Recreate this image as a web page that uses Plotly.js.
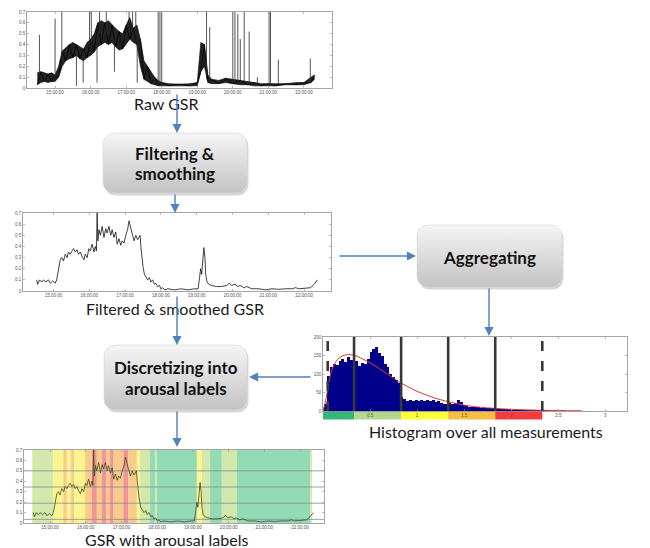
<!DOCTYPE html>
<html>
<head>
<meta charset="utf-8">
<script src="https://cdn.plot.ly/plotly-3.0.1.min.js"></script>
<style>html,body{margin:0;padding:0;background:#fff;}#chart{width:650px;height:548px;}</style>
</head>
<body>
<div id="chart"></div>
<script>
// ---------------- DATA ----------------
// time axis (hours of day)
const hourTicks = [15, 16, 17, 18, 19, 20, 21, 22];
const hourLabels = ["15:00:00", "16:00:00", "17:00:00", "18:00:00", "19:00:00", "20:00:00", "21:00:00", "22:00:00"];
const gsrTicks = [0, 0.1, 0.2, 0.3, 0.4, 0.5, 0.6, 0.7];
const gsrTickLabels = ["0", "0.1", "0.2", "0.3", "0.4", "0.5", "0.6", "0.7"];

// raw GSR: noise envelope
const rawT  = [14.5,14.6,14.7,14.8,14.9,15.0,15.1,15.2,15.3,15.4,15.5,15.6,15.7,15.8,15.9,16.0,16.1,16.2,16.3,16.4,16.5,16.6,16.7,16.8,16.9,17.0,17.1,17.2,17.3,17.4,17.5,17.6,17.7,17.8,17.9,18.0,18.2,18.5,18.8,19.0,19.1,19.2,19.3,19.4,19.6,19.8,20.0,20.2,20.4,20.6,20.8,21.0,21.2,21.5,21.8,22.0,22.2,22.3];
const rawLo = [0.03,0.05,0.06,0.05,0.06,0.06,0.10,0.20,0.25,0.27,0.28,0.30,0.27,0.25,0.28,0.30,0.33,0.38,0.40,0.42,0.40,0.42,0.38,0.35,0.36,0.40,0.45,0.42,0.40,0.20,0.08,0.06,0.04,0.03,0.02,0.02,0.02,0.02,0.02,0.02,0.15,0.20,0.05,0.04,0.04,0.05,0.04,0.03,0.03,0.02,0.02,0.02,0.02,0.03,0.03,0.03,0.05,0.08];
const rawHi = [0.14,0.15,0.14,0.13,0.14,0.12,0.20,0.34,0.37,0.40,0.42,0.40,0.38,0.36,0.42,0.45,0.50,0.60,0.62,0.60,0.62,0.58,0.55,0.52,0.50,0.58,0.65,0.55,0.58,0.45,0.25,0.20,0.15,0.10,0.07,0.05,0.04,0.035,0.04,0.05,0.42,0.40,0.12,0.08,0.07,0.09,0.08,0.07,0.06,0.05,0.04,0.04,0.04,0.04,0.05,0.05,0.10,0.12];
// raw GSR: artefact spikes
const spikeT    = [14.56,15.00,15.19,15.60,15.79,15.97,16.02,16.18,16.25,16.44,16.67,16.71,17.08,17.18,17.27,17.31,17.90,17.95,18.00,19.26,19.35,20.00,20.06,20.14,20.21,20.32,20.46,20.69,21.02,21.06,21.28,22.18];
const spikeFrom = [0.10,0.10,0.25,0.35,0.33,0.38,0.40,0.45,0.50,0.50,0.45,0.45,0.50,0.50,0.50,0.45,0.04,0.04,0.03,0.08,0.06,0.05,0.05,0.05,0.05,0.05,0.04,0.03,0.03,0.03,0.03,0.06];
const spikeTo   = [0.49,0.64,0.70,0.02,0.05,0.70,0.70,0.05,0.70,0.70,0.15,0.55,0.70,0.70,0.70,0.05,0.70,0.70,0.70,0.70,0.56,0.70,0.70,0.68,0.45,0.70,0.52,0.10,0.70,0.70,0.26,0.27];

// filtered & smoothed GSR
const filtT = [14.53,14.56,14.61,14.67,14.72,14.79,14.86,14.91,14.98,15.05,15.09,15.14,15.19,15.23,15.28,15.33,15.38,15.42,15.47,15.52,15.56,15.61,15.66,15.70,15.75,15.80,15.85,15.89,15.94,15.99,16.03,16.08,16.13,16.17,16.20,16.22,16.24,16.27,16.31,16.36,16.41,16.46,16.50,16.55,16.60,16.64,16.69,16.74,16.78,16.83,16.88,16.92,16.97,17.02,17.07,17.11,17.16,17.21,17.25,17.30,17.35,17.39,17.42,17.44,17.47,17.50,17.54,17.58,17.63,17.68,17.72,17.77,17.82,17.86,17.91,17.96,18.00,18.05,18.10,18.19,18.38,18.57,18.76,18.94,19.04,19.08,19.11,19.14,19.17,19.20,19.23,19.25,19.29,19.34,19.41,19.55,19.69,19.84,19.91,19.98,20.07,20.15,20.21,20.31,20.40,20.54,20.73,20.92,21.10,21.29,21.48,21.67,21.76,21.85,22.04,22.18,22.28,22.37];
const filtV = [0.10,0.06,0.10,0.08,0.10,0.08,0.10,0.07,0.09,0.07,0.10,0.20,0.28,0.30,0.27,0.33,0.30,0.35,0.33,0.36,0.38,0.35,0.37,0.33,0.35,0.31,0.28,0.33,0.30,0.38,0.36,0.42,0.35,0.40,0.36,0.70,0.45,0.55,0.50,0.58,0.48,0.56,0.52,0.58,0.50,0.55,0.48,0.53,0.42,0.47,0.41,0.45,0.43,0.50,0.55,0.63,0.55,0.50,0.45,0.50,0.46,0.48,0.50,0.40,0.30,0.22,0.15,0.13,0.10,0.12,0.08,0.10,0.06,0.07,0.04,0.05,0.02,0.03,0.01,0.02,0.01,0.02,0.01,0.02,0.02,0.12,0.20,0.15,0.33,0.39,0.30,0.15,0.08,0.06,0.05,0.04,0.04,0.05,0.07,0.05,0.06,0.04,0.05,0.03,0.04,0.02,0.02,0.01,0.02,0.015,0.02,0.02,0.03,0.02,0.025,0.03,0.06,0.10];

// histogram over all measurements
const histBinStart = 0.015;
const histBinWidth = 0.03;
const histCounts = [20,95,120,128,125,135,140,132,145,138,
                    128,135,122,130,126,140,160,168,172,158,
                    150,128,118,100,92,84,76,38,32,28,
                    30,26,29,27,31,28,30,26,29,25,
                    27,22,20,19,21,18,22,30,24,15,
                    13,12,11,12,10,9,10,8,8,7,
                    6,6,5,6,5,5,4,5,4,4,
                    4,3,4,3,3,3,2,2,2,2,
                    1,2,1,1,1];
const fitX = [0,0.03,0.06,0.1,0.15,0.2,0.25,0.3,0.35,0.4,0.5,0.6,0.7,0.8,0.9,1.0,1.1,1.2,1.3,1.4,1.5,1.6,1.7,1.8,2.0,2.2,2.4,2.6,2.75];
const fitY = [0,30,75,115,138,148,152,152,149,143,130,114,97,80,66,53,43,34,27,21,16,12,9.5,7.5,4.5,2.7,1.6,1.0,0.6];
const histTicks = [0.5, 1, 1.5, 2, 2.5, 3];
const histTickLabels = ["0.5", "1", "1.5", "2", "2.5", "3"];
const countTicks = [0, 50, 100, 150, 200];
const histLines = [0.05, 0.33, 0.83, 1.33, 1.83, 2.33];
const histLineDashed = [true, false, false, false, false, true];
const arousalEdges = [0, 0.33, 0.83, 1.33, 1.83, 2.33];
const arousalColors = ["#34b67a", "#b3d88c", "#ffff3c", "#f9bd3f", "#f43c3c"];

// arousal labels over time (level 0..4)
const bandStart = [14.50,15.09,15.37,15.47,15.59,15.68,15.98,16.17,16.31,16.45,16.57,16.68,16.78,17.05,17.19,17.43,17.52,17.80,17.95,17.99,19.11,19.25,19.48,19.81,20.23,22.28];
const bandEnd   = [15.09,15.37,15.47,15.59,15.68,15.98,16.17,16.31,16.45,16.57,16.68,16.78,17.05,17.19,17.43,17.52,17.80,17.95,17.99,19.11,19.25,19.48,19.81,20.23,22.28,22.33];
const bandLevel = [1,2,3,2,3,2,3,4,3,4,3,4,3,4,3,2,1,0,1,0,2,1,0,1,0,1];
const bandColors = ["#93dbb5", "#d3e8aa", "#fcf58e", "#f8cb8a", "#f29596"];
const gsrThresholds = [0.035, 0.19, 0.345, 0.5];

// ---------------- LAYOUT GEOMETRY (pixels) ----------------
const W = 650, H = 548;
function dom(a, b, size) { return [a / size, b / size]; }
function ydom(top, bottom) { return [1 - bottom / H, 1 - top / H]; }

const tickFont = {family: "Liberation Sans, Arial, sans-serif", size: 4.5, color: "#555"};
function miniAxis(extra) {
  return Object.assign({
    showline: true, mirror: "ticks", linecolor: "#8f8f8f", linewidth: 0.8,
    ticks: "inside", ticklen: 2, tickwidth: 0.6, tickcolor: "#8f8f8f",
    tickfont: tickFont, showgrid: false, zeroline: false, fixedrange: true
  }, extra);
}
const timeAxis = (range, d, anchor) => miniAxis({range: range, domain: d, anchor: anchor,
  tickmode: "array", tickvals: hourTicks, ticktext: hourLabels});
const gsrAxis = (d, anchor) => miniAxis({range: [0, 0.7], domain: d, anchor: anchor,
  tickmode: "array", tickvals: gsrTicks, ticktext: gsrTickLabels});

const traces = [];
// raw GSR (subplot 1): noise band + zig-zag texture + artefact spikes
traces.push({x: rawT, y: rawLo, xaxis: "x", yaxis: "y", mode: "lines", line: {color: "#000", width: 0.6}, hoverinfo: "skip", showlegend: false});
traces.push({x: rawT, y: rawHi, xaxis: "x", yaxis: "y", mode: "lines", fill: "tonexty", fillcolor: "#222", line: {color: "#000", width: 0.6}, hoverinfo: "skip", showlegend: false});
traces.push({x: rawT, y: rawT.map((t, i) => (i % 2 ? rawHi[i] : rawLo[i])), xaxis: "x", yaxis: "y", mode: "lines", line: {color: "#000", width: 0.7}, hoverinfo: "skip", showlegend: false});
const spx = [], spy = [];
spikeT.forEach((t, i) => { spx.push(t, t, null); spy.push(spikeFrom[i], spikeTo[i], null); });
traces.push({x: spx, y: spy, xaxis: "x", yaxis: "y", mode: "lines", line: {color: "#2a2a2a", width: 0.8}, connectgaps: false, hoverinfo: "skip", showlegend: false});
// filtered GSR (subplot 2)
traces.push({x: filtT, y: filtV, xaxis: "x2", yaxis: "y2", mode: "lines", line: {color: "#111", width: 0.8}, hoverinfo: "skip", showlegend: false});
// histogram (subplot 3)
traces.push({x: histCounts.map((c, i) => histBinStart + (i + 0.5) * histBinWidth), y: histCounts, width: histBinWidth,
  type: "bar", xaxis: "x3", yaxis: "y3", marker: {color: "#00008b", line: {width: 0}}, hoverinfo: "skip", showlegend: false});
traces.push({x: fitX, y: fitY, xaxis: "x3", yaxis: "y3", mode: "lines", line: {color: "#e23a32", width: 1, shape: "spline"}, hoverinfo: "skip", showlegend: false});
// labelled GSR (subplot 4)
traces.push({x: filtT, y: filtV, xaxis: "x4", yaxis: "y4", mode: "lines", line: {color: "#3b4a1c", width: 0.8}, hoverinfo: "skip", showlegend: false});

// ---------------- flowchart boxes (overlay subplot in pixel units) ----------------
const boxes = [
  {x0: 103, y0: 133, x1: 247, y1: 193, lines: ["Filtering &", "smoothing"], ly: [153, 173], cx: 175},
  {x0: 417, y0: 225, x1: 562, y1: 287, lines: ["Aggregating"], ly: [257], cx: 489},
  {x0: 104, y0: 345, x1: 247, y1: 410, lines: ["Discretizing into", "arousal labels"], ly: [367, 388], cx: 176}
];
function roundRect(x0, y0, x1, y1, r) {
  const xs = [], ys = [];
  const corners = [[x1 - r, y0 + r, -90, 0], [x1 - r, y1 - r, 0, 90], [x0 + r, y1 - r, 90, 180], [x0 + r, y0 + r, 180, 270]];
  corners.forEach(c => {
    for (let k = 0; k <= 8; k++) {
      const a = (c[2] + (c[3] - c[2]) * k / 8) * Math.PI / 180;
      xs.push(c[0] + r * Math.cos(a)); ys.push(c[1] + r * Math.sin(a));
    }
  });
  xs.push(xs[0]); ys.push(ys[0]);
  return {xs, ys};
}
boxes.forEach(b => {
  const s = roundRect(b.x0 + 1.5, b.y0 + 2.5, b.x1 + 1.5, b.y1 + 2.5, 11);
  traces.push({x: s.xs, y: s.ys, xaxis: "x5", yaxis: "y5", mode: "lines", fill: "toself", fillcolor: "rgba(0,0,0,0.16)", line: {width: 0}, hoverinfo: "skip", showlegend: false});
  const p = roundRect(b.x0, b.y0, b.x1, b.y1, 11);
  traces.push({x: p.xs, y: p.ys, xaxis: "x5", yaxis: "y5", mode: "lines", fill: "toself", fillcolor: "#dcdcdc",
    fillgradient: {type: "vertical", colorscale: [[0, "#c3c3c3"], [1, "#f5f5f5"]], start: b.y1, stop: b.y0},
    line: {width: 0.6, color: "#d6d6d6"}, hoverinfo: "skip", showlegend: false});
});

// ---------------- shapes ----------------
const shapes = [];
// arousal bands behind labelled GSR
bandStart.forEach((s, i) => {
  shapes.push({type: "rect", xref: "x4", yref: "y4 domain", x0: s, x1: bandEnd[i], y0: 0, y1: 1,
    fillcolor: bandColors[bandLevel[i]], line: {width: 0}, layer: "below"});
});
gsrThresholds.forEach(v => {
  shapes.push({type: "line", xref: "x4 domain", yref: "y4", x0: 0, x1: 1, y0: v, y1: v,
    line: {color: "#7f8c99", width: 0.8}, layer: "below"});
});
// histogram thresholds
histLines.forEach((v, i) => {
  shapes.push({type: "line", xref: "x3", yref: "y3 domain", x0: v, x1: v, y0: 0, y1: 1,
    line: {color: "#383838", width: 2.6, dash: histLineDashed[i] ? "10px,10px" : "solid"}, layer: "above"});
});
// colour bar under histogram
arousalColors.forEach((c, i) => {
  shapes.push({type: "rect", xref: "x3", yref: "paper", x0: arousalEdges[i], x1: arousalEdges[i + 1],
    y0: 1 - 419.5 / H, y1: 1 - 411 / H, fillcolor: c, line: {width: 0}, layer: "below"});
});

// ---------------- annotations ----------------
const labelFont = {family: "Lato, 'Open Sans', sans-serif", size: 16, color: "#1a1a1a"};
const boxFont = {family: "Lato, 'Open Sans', sans-serif", size: 17, color: "#111", weight: "bold"};
const ann = [];
function text(t, x, y, font) {
  ann.push({text: t, x: x, y: y, xref: "x5", yref: "y5", showarrow: false, xanchor: "center", yanchor: "middle", font: font});
}
text("Raw GSR", 166, 103, labelFont);
text("Filtered &amp; smoothed GSR", 175, 308, labelFont);
text("Histogram over all measurements", 486, 431, labelFont);
text("GSR with arousal labels", 166, 539, labelFont);
boxes.forEach(b => b.lines.forEach((l, i) => text("<b>" + l.replace("&", "&amp;") + "</b>", b.cx, b.ly[i], boxFont)));

const arrows = [
  [177, 93, 177, 133], [175, 193, 175, 213], [177, 295, 177, 345],
  [338, 256, 416, 256], [489, 287, 489, 336], [312, 377, 249, 377], [177, 410, 177, 447]
];
arrows.forEach(a => {
  ann.push({x: a[2], y: a[3], ax: a[0], ay: a[1], xref: "x5", yref: "y5", axref: "x5", ayref: "y5",
    showarrow: true, arrowhead: 2, arrowsize: 1.3, arrowwidth: 1.4, arrowcolor: "#4f81bd", standoff: 0, text: ""});
});

const layout = {
  width: W, height: H, margin: {l: 0, r: 0, t: 0, b: 0},
  paper_bgcolor: "#fff", plot_bgcolor: "rgba(0,0,0,0)", showlegend: false, bargap: 0,
  xaxis:  timeAxis([14.21, 22.79], dom(27, 332, W), "y"),
  yaxis:  gsrAxis(ydom(12, 88), "x"),
  xaxis2: timeAxis([14.15, 22.75], dom(23, 331, W), "y2"),
  yaxis2: gsrAxis(ydom(213, 291), "x2"),
  xaxis3: miniAxis({range: [0, 3.23], domain: dom(323, 627, W), anchor: "y3", tickmode: "array", tickvals: histTicks, ticktext: histTickLabels}),
  yaxis3: miniAxis({range: [0, 200], domain: ydom(337, 411), anchor: "x3", tickmode: "array", tickvals: countTicks}),
  xaxis4: timeAxis([14.27, 22.67], dom(24, 324, W), "y4"),
  yaxis4: gsrAxis(ydom(450, 523), "x4"),
  xaxis5: {domain: [0, 1], range: [0, W], anchor: "y5", visible: false, fixedrange: true},
  yaxis5: {domain: [0, 1], range: [H, 0], anchor: "x5", visible: false, fixedrange: true},
  shapes: shapes, annotations: ann
};
Plotly.newPlot("chart", traces, layout, {displayModeBar: false, staticPlot: true});
</script>
</body>
</html>
